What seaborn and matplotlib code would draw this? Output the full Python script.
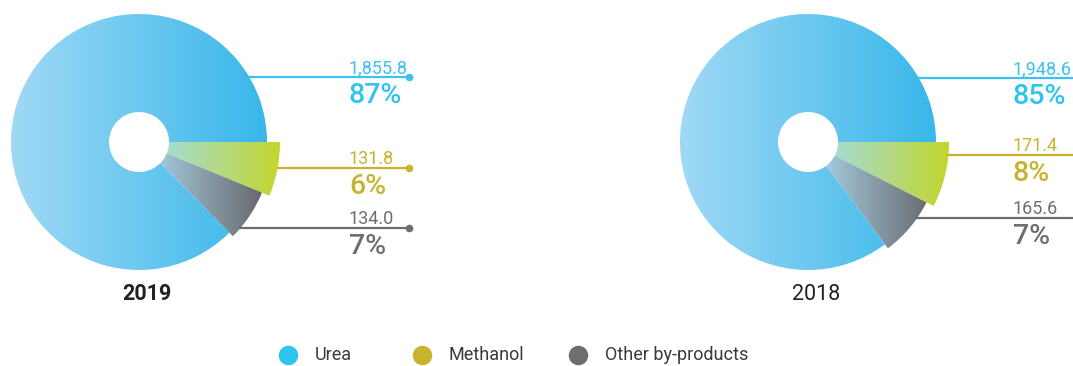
import numpy as np
import matplotlib
matplotlib.use("Agg")
import matplotlib.pyplot as plt
import seaborn as sns
from matplotlib.colors import LinearSegmentedColormap

# ---------------- data ----------------
categories = ["Methanol", "Other by-products", "Urea"]
years = ["2019", "2018"]
values_2019 = [131.8, 134.0, 1855.8]
values_2018 = [171.4, 165.6, 1948.6]
value_labels_2019 = ["131.8", "134.0", "1,855.8"]
value_labels_2018 = ["171.4", "165.6", "1,948.6"]
pct_labels_2019 = ["6%", "7%", "87%"]
pct_labels_2018 = ["8%", "7%", "85%"]
legend_labels = ["Urea", "Methanol", "Other by-products"]

# ---------------- style ----------------
sns.set_theme(style="white")
plt.rcParams["font.family"] = ["Roboto", "DejaVu Sans"]

W, H = 1073, 366
fig = plt.figure(figsize=(W / 100, H / 100), dpi=100)
ax = fig.add_axes([0, 0, 1, 1])

solid = {"Urea": "#2ec4f0", "Methanol": "#c8b22e", "Other by-products": "#6d6e71"}
line_col = {"Urea": "#3cc0ee", "Methanol": "#c9b22f", "Other by-products": "#6d6e71"}
grad = {
    "Urea": ("#a0d9f5", "#38b7ea"),
    "Methanol": ("#a6dcd3", "#c2d62c"),
    "Other by-products": ("#a6cbe0", "#67686b"),
}
radius = {"Urea": 128, "Methanol": 141, "Other by-products": 133}
hole = 30


def draw_donut(cx, cy, vals, vlabels, plabels, year, bold, line_dy):
    wedges, _ = ax.pie(vals, startangle=0, counterclock=True, center=(cx, cy),
                       radius=128, frame=True,
                       wedgeprops=dict(edgecolor="none", linewidth=0))
    for w, cat in zip(wedges, categories):
        r = radius[cat]
        w.set_radius(r)
        w.set_width(r - hole)
        w.set_facecolor("none")
        cmap = LinearSegmentedColormap.from_list(cat, list(grad[cat]))
        if cat == "Urea":
            x0, x1 = cx - r, cx + r
        elif cat == "Methanol":
            x0, x1 = cx + hole * 0.9, cx + r
        else:
            x0, x1 = cx + hole * 0.5, cx + r * 0.93
        g = np.linspace(0, 1, 256)[None, :]
        im = ax.imshow(g, cmap=cmap, aspect="auto", interpolation="bicubic",
                       extent=(x0, x1, cy + r, cy - r), zorder=2)
        im.set_clip_path(w)
    # leader lines and labels
    tx = min(cx + 210, W - 60)
    for cat, vl, pl, dy in zip(categories, vlabels, plabels, line_dy):
        r = radius[cat]
        y = cy + dy
        xs = cx + np.sqrt(max(r ** 2 - dy ** 2, 0)) - 1
        xe = cx + 270
        ax.plot([xs, xe], [y, y], color=line_col[cat], lw=1.6, zorder=3,
                solid_capstyle="butt")
        ax.plot([xe], [y], "o", color=line_col[cat], ms=4.5, zorder=3)
        ax.text(tx, y - 4, vl, color=line_col[cat], fontsize=13,
                fontweight="normal", ha="left", va="baseline", zorder=4)
        ax.text(tx, y + 5, pl, color=solid[cat], fontsize=20.5,
                fontweight="medium", ha="left", va="top", zorder=4)
    ax.text(cx + 8, 294, year, color="#222222",
            fontsize=15.5, fontweight="bold" if bold else "normal",
            ha="center", va="center")


draw_donut(139, 142, values_2019, value_labels_2019, pct_labels_2019,
           years[0], True, [26, 86, -65])
draw_donut(808, 142, values_2018, value_labels_2018, pct_labels_2018,
           years[1], False, [13, 76, -64])

# legend
leg_x = [288, 422, 578]
for lab, lx in zip(legend_labels, leg_x):
    ax.plot([lx], [355], "o", color=solid[lab], ms=13, zorder=3)
    ax.text(lx + 27, 355, lab, color="#3a3a3a", fontsize=13,
            ha="left", va="center")

ax.set_xlim(0, W)
ax.set_ylim(H, 0)
ax.set_aspect("auto")
ax.axis("off")
fig.savefig("out.png", dpi=100)
